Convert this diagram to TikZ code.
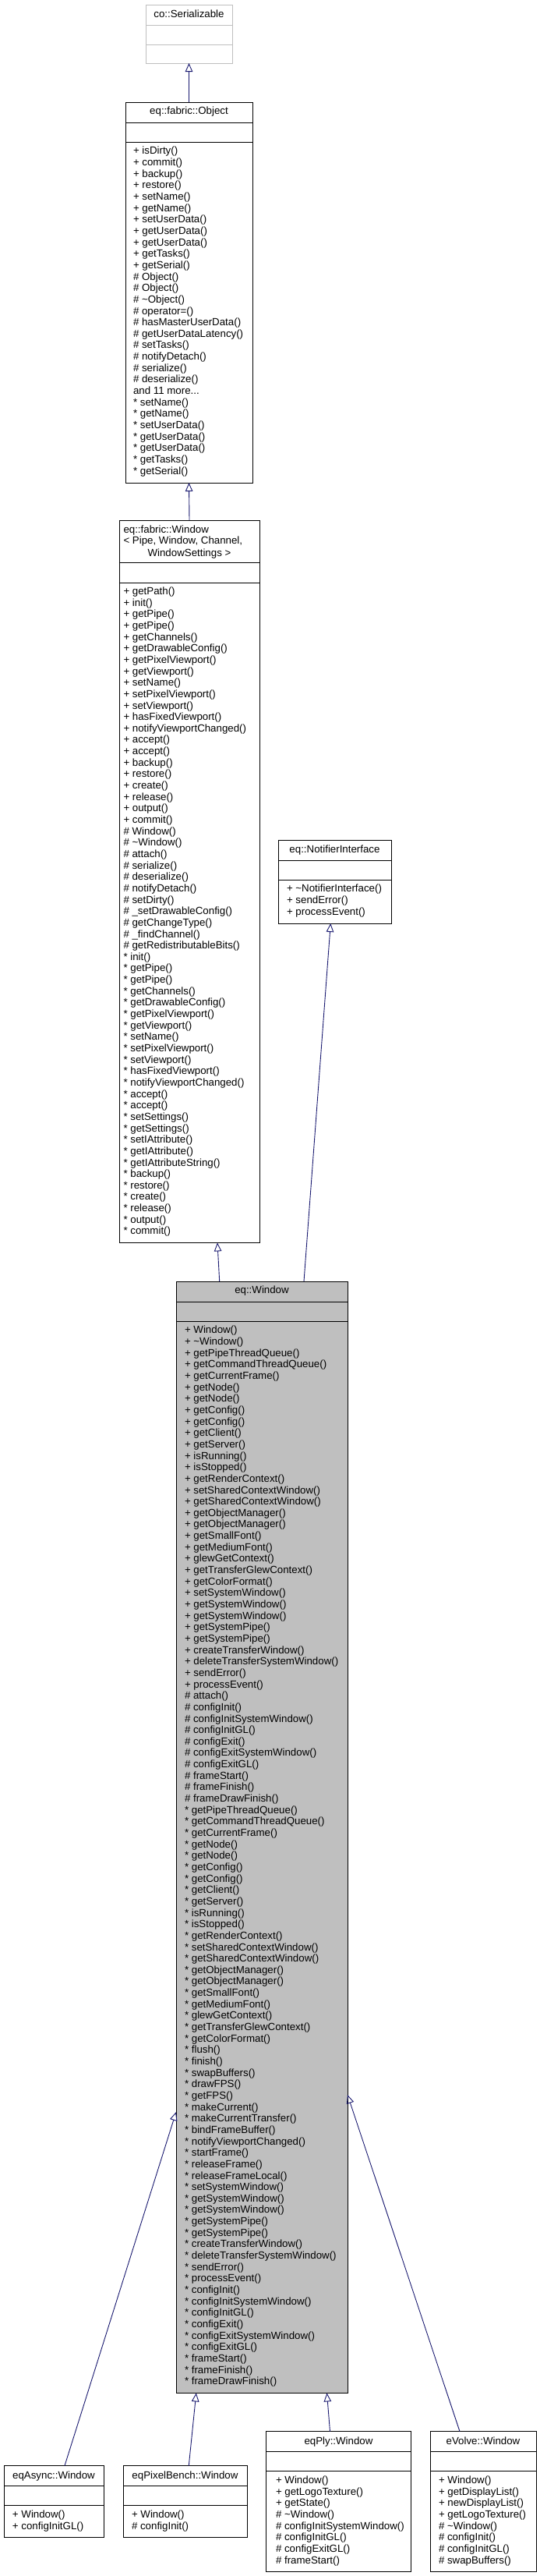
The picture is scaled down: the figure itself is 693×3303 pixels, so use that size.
\documentclass[tikz,border=0pt]{standalone}
\usepackage{fontspec}
\newfontfamily\dox{Liberation Sans}
\usetikzlibrary{arrows.meta,calc}
\definecolor{edgeblue}{HTML}{191970}
\definecolor{greyfill}{HTML}{BFBFBF}
\tikzset{
  cls/.style={draw=black, line width=1pt, fill=white, inner sep=0pt, outer sep=0pt, anchor=north west},
  sepline/.style={draw=black, line width=1pt},
  txt/.style={inner sep=0pt, outer sep=0pt, font=\dox\fontsize{13.3}{14.65}\selectfont, text=black},
  inh/.style={draw=edgeblue, line width=0.9pt, -{Triangle[open, length=11pt, width=9.5pt]}},
}
\newcommand{\mlist}[4]{\foreach \mtext [count=\i from 0] in {#4} {\node[txt, anchor=base west] (#1-\i) at (#2, {#3+14.65*\i}) {\mtext};}}
\newcommand{\seps}[3]{\draw[#3] ($(#1.north west)+(0,#2)$) -- ($(#1.north east)+(0,#2)$);}

\begin{document}
\begin{tikzpicture}[x=1pt, y=-1pt]
\useasboundingbox (0,0) rectangle (693,3303);
\fill[white] (0,0) rectangle (693,3303);

% co::Serializable
\node[cls, draw=greyfill, minimum width=111pt, minimum height=75pt] (ser) at (187,6) {};
\seps{ser}{26}{draw=greyfill, line width=1pt}
\seps{ser}{51}{draw=greyfill, line width=1pt}
\node[txt, anchor=base] (ser-t) at (242.5,23) {co::Serializable};

% eq::fabric::Object
\node[cls, minimum width=163pt, minimum height=488pt] (obj) at (161,131) {};
\seps{obj}{26}{sepline}
\seps{obj}{51}{sepline}
\node[txt, anchor=base] (obj-t) at (242.5,146) {eq::fabric::Object};
\mlist{obj}{171}{197.9}{+ isDirty(), + commit(), + backup(), + restore(), + setName(), + getName(), + setUserData(), + getUserData(), + getUserData(), + getTasks(), + getSerial(), \# Object(), \# Object(), \# \textasciitilde Object(), \# operator=(), \# hasMasterUserData(), \# getUserDataLatency(), \# setTasks(), \# notifyDetach(), \# serialize(), \# deserialize(), and 11 more.{}.{}., * setName(), * getName(), * setUserData(), * getUserData(), * getUserData(), * getTasks(), * getSerial()}

% eq::fabric::Window
\node[cls, minimum width=180pt, minimum height=926.4pt] (fw) at (153,667) {};
\seps{fw}{54.5}{sepline}
\seps{fw}{80}{sepline}
\node[txt, anchor=base west] (fw-t1) at (158.5,683.5) {eq::fabric::Window};
\node[txt, anchor=base west] (fw-t2) at (158.5,697.8) {< Pipe, Window, Channel,};
\node[txt, anchor=base] (fw-t3) at (243,713) {WindowSettings >};
\mlist{fw}{158.5}{762.5}{+ getPath(), + init(), + getPipe(), + getPipe(), + getChannels(), + getDrawableConfig(), + getPixelViewport(), + getViewport(), + setName(), + setPixelViewport(), + setViewport(), + hasFixedViewport(), + notifyViewportChanged(), + accept(), + accept(), + backup(), + restore(), + create(), + release(), + output(), + commit(), \# Window(), \# \textasciitilde Window(), \# attach(), \# serialize(), \# deserialize(), \# notifyDetach(), \# setDirty(), \# \_setDrawableConfig(), \# getChangeType(), \# \_findChannel(), \# getRedistributableBits(), * init(), * getPipe(), * getPipe(), * getChannels(), * getDrawableConfig(), * getPixelViewport(), * getViewport(), * setName(), * setPixelViewport(), * setViewport(), * hasFixedViewport(), * notifyViewportChanged(), * accept(), * accept(), * setSettings(), * getSettings(), * setIAttribute(), * getIAttribute(), * getIAttributeString(), * backup(), * restore(), * create(), * release(), * output(), * commit()}

% eq::NotifierInterface
\node[cls, minimum width=145pt, minimum height=107pt] (ni) at (357,1077) {};
\seps{ni}{26}{sepline}
\seps{ni}{51}{sepline}
\node[txt, anchor=base] (ni-t) at (429.5,1093.5) {eq::NotifierInterface};
\mlist{ni}{368}{1143.9}{+ \textasciitilde NotifierInterface(), + sendError(), + processEvent()}

% eq::Window
\node[cls, fill=greyfill, minimum width=220pt, minimum height=1425.4pt] (win) at (226,1643) {};
\seps{win}{26}{sepline}
\seps{win}{51}{sepline}
\node[txt, anchor=base] (win-t) at (336,1658.5) {eq::Window};
\mlist{win}{237}{1709.9}{+ Window(), + \textasciitilde Window(), + getPipeThreadQueue(), + getCommandThreadQueue(), + getCurrentFrame(), + getNode(), + getNode(), + getConfig(), + getConfig(), + getClient(), + getServer(), + isRunning(), + isStopped(), + getRenderContext(), + setSharedContextWindow(), + getSharedContextWindow(), + getObjectManager(), + getObjectManager(), + getSmallFont(), + getMediumFont(), + glewGetContext(), + getTransferGlewContext(), + getColorFormat(), + setSystemWindow(), + getSystemWindow(), + getSystemWindow(), + getSystemPipe(), + getSystemPipe(), + createTransferWindow(), + deleteTransferSystemWindow(), + sendError(), + processEvent(), \# attach(), \# configInit(), \# configInitSystemWindow(), \# configInitGL(), \# configExit(), \# configExitSystemWindow(), \# configExitGL(), \# frameStart(), \# frameFinish(), \# frameDrawFinish(), * getPipeThreadQueue(), * getCommandThreadQueue(), * getCurrentFrame(), * getNode(), * getNode(), * getConfig(), * getConfig(), * getClient(), * getServer(), * isRunning(), * isStopped(), * getRenderContext(), * setSharedContextWindow(), * getSharedContextWindow(), * getObjectManager(), * getObjectManager(), * getSmallFont(), * getMediumFont(), * glewGetContext(), * getTransferGlewContext(), * getColorFormat(), * flush(), * finish(), * swapBuffers(), * drawFPS(), * getFPS(), * makeCurrent(), * makeCurrentTransfer(), * bindFrameBuffer(), * notifyViewportChanged(), * startFrame(), * releaseFrame(), * releaseFrameLocal(), * setSystemWindow(), * getSystemWindow(), * getSystemWindow(), * getSystemPipe(), * getSystemPipe(), * createTransferWindow(), * deleteTransferSystemWindow(), * sendError(), * processEvent(), * configInit(), * configInitSystemWindow(), * configInitGL(), * configExit(), * configExitSystemWindow(), * configExitGL(), * frameStart(), * frameFinish(), * frameDrawFinish()}

% bottom row
\node[cls, minimum width=128pt, minimum height=92.3pt] (as) at (5,3161.5) {};
\seps{as}{26}{sepline}
\seps{as}{51}{sepline}
\node[txt, anchor=base] (as-t) at (69,3178) {eqAsync::Window};
\mlist{as}{16}{3228.4}{+ Window(), + configInitGL()}

\node[cls, minimum width=159pt, minimum height=92.3pt] (pb) at (158,3161.5) {};
\seps{pb}{26}{sepline}
\seps{pb}{51}{sepline}
\node[txt, anchor=base] (pb-t) at (237.5,3178) {eqPixelBench::Window};
\mlist{pb}{169}{3228.4}{+ Window(), \# configInit()}

\node[cls, minimum width=186pt, minimum height=180.2pt] (ply) at (341.5,3117.6) {};
\seps{ply}{26}{sepline}
\seps{ply}{51}{sepline}
\node[txt, anchor=base] (ply-t) at (434.5,3134) {eqPly::Window};
\mlist{ply}{354}{3184.5}{+ Window(), + getLogoTexture(), + getState(), \# \textasciitilde Window(), \# configInitSystemWindow(), \# configInitGL(), \# configExitGL(), \# frameStart()}

\node[cls, minimum width=136pt, minimum height=180.2pt] (ev) at (552,3117.6) {};
\seps{ev}{26}{sepline}
\seps{ev}{51}{sepline}
\node[txt, anchor=base] (ev-t) at (620,3134) {eVolve::Window};
\mlist{ev}{563}{3184.5}{+ Window(), + getDisplayList(), + newDisplayList(), + getLogoTexture(), \# \textasciitilde Window(), \# configInit(), \# configInitGL(), \# swapBuffers()}

% inheritance connectors
\draw[inh] (obj.north) -- (ser.south);
\draw[inh] (fw.north) -- (obj.south);
\draw[inh] ($(win.north west)+(55.7,0)$) -- ($(fw.south west)+(126,0)$);
\draw[inh] ($(win.north west)+(164,0)$) -- ($(ni.south west)+(67.3,0)$);
\draw[inh] ($(as.north west)+(78,0)$) -- ($(win.north west)+(0,1065)$);
\draw[inh] ($(pb.north west)+(84.3,0)$) -- ($(win.south west)+(25.8,0)$);
\draw[inh] ($(ply.north west)+(82,0)$) -- ($(win.south west)+(193.5,0)$);
\draw[inh] ($(ev.north west)+(38,0)$) -- ($(win.north east)+(0,1043)$);
\end{tikzpicture}
\end{document}
